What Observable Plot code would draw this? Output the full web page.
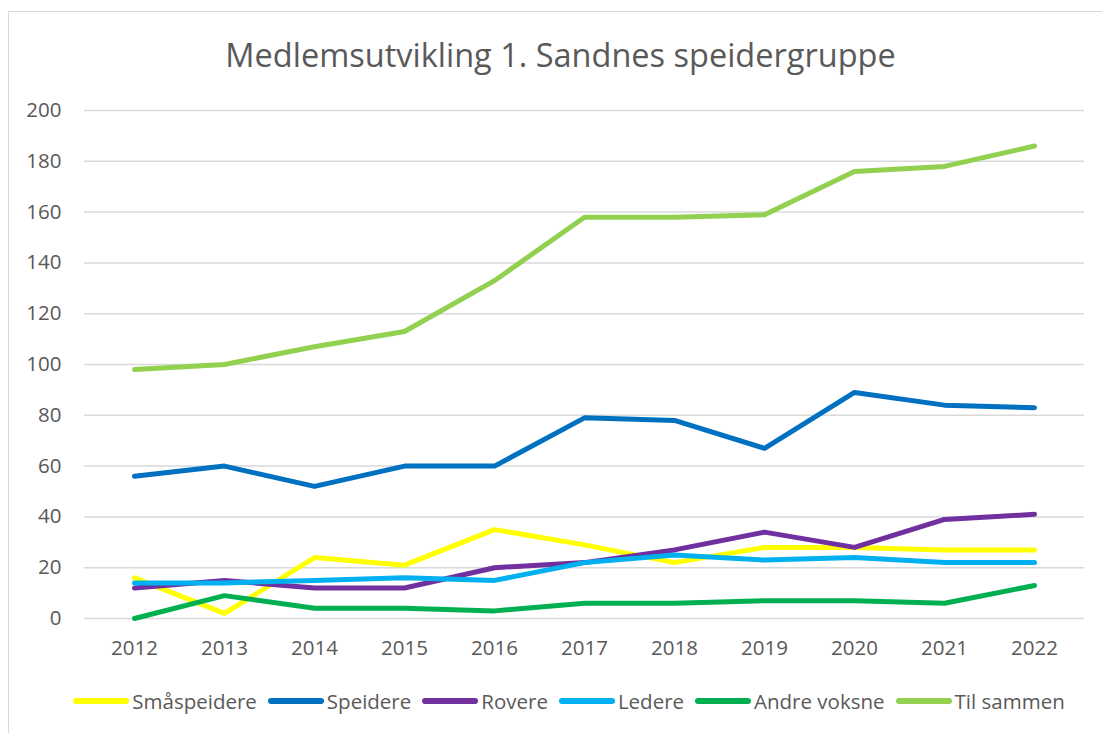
<!DOCTYPE html>
<html>
<head>
<meta charset="utf-8">
<script src="https://cdn.jsdelivr.net/npm/d3@7"></script>
<script src="https://cdn.jsdelivr.net/npm/@observablehq/plot@0.6"></script>
<style>
  body { margin: 0; background: #fff; font-family: "Open Sans", sans-serif; color: #595959; }
  #wrap { position: relative; width: 1102px; height: 733px; overflow: hidden; }
  #frame { position: absolute; left: 8px; top: 11px; width: 1110px; height: 740px; border: 1px solid #d9d9d9; box-sizing: border-box; }
  #title { position: absolute; left: 0; width: 1121px; top: 32px; text-align: center; font-size: 32.5px; font-weight: 400; color: #595959; white-space: nowrap; }
  #chart { position: absolute; left: 0; top: 0; }
  #legend { position: absolute; left: 0; width: 1138px; top: 687px; display: flex; justify-content: center; align-items: center; font-size: 20.5px; color: #595959; white-space: nowrap; }
  .item { display: flex; align-items: center; margin-right: 11px; }
  .item:last-child { margin-right: 0; }
  .sw { width: 56px; height: 6px; border-radius: 3px; margin-right: 3px; }
</style>
</head>
<body>
<div id="wrap">
  <div id="frame"></div>
  <div id="chart"></div>
  <div id="title">Medlemsutvikling 1. Sandnes speidergruppe</div>
  <div id="legend"></div>
</div>
<script>
const years = [2012, 2013, 2014, 2015, 2016, 2017, 2018, 2019, 2020, 2021, 2022];
const seriesNames = ["Småspeidere", "Speidere", "Rovere", "Ledere", "Andre voksne", "Til sammen"];
const smaspeidere = [16, 2, 24, 21, 35, 29, 22, 28, 28, 27, 27];
const speidere = [56, 60, 52, 60, 60, 79, 78, 67, 89, 84, 83];
const rovere = [12, 15, 12, 12, 20, 22, 27, 34, 28, 39, 41];
const ledere = [14, 14, 15, 16, 15, 22, 25, 23, 24, 22, 22];
const andreVoksne = [0, 9, 4, 4, 3, 6, 6, 7, 7, 6, 13];
const tilSammen = [98, 100, 107, 113, 133, 158, 158, 159, 176, 178, 186];
const colors = ["#FFFF00", "#0070C0", "#7030A0", "#00B0F0", "#00B050", "#92D050"];
const yTicks = [0, 20, 40, 60, 80, 100, 120, 140, 160, 180, 200];

const seriesValues = [smaspeidere, speidere, rovere, ledere, andreVoksne, tilSammen];
const data = [];
seriesNames.forEach((name, i) => {
  years.forEach((yr, j) => data.push({series: name, year: String(yr), value: seriesValues[i][j]}));
});

const chart = Plot.plot({
  width: 1102,
  height: 733,
  marginTop: 110,
  marginBottom: 115,
  marginLeft: 84,
  marginRight: 18,
  style: { fontFamily: "Open Sans, sans-serif", fontSize: "20.5px", color: "#595959", background: "transparent" },
  x: { type: "point", domain: years.map(String), padding: 0.5, label: null },
  y: { domain: [0, 200], label: null },
  color: { domain: seriesNames, range: colors },
  marks: [
    Plot.ruleY(yTicks, { stroke: "#d9d9d9", strokeWidth: 1.5 }),
    Plot.axisX({ tickSize: 0, tickPadding: 22, label: null, fill: "#595959" }),
    Plot.axisY(yTicks, { tickSize: 0, tickPadding: 23, label: null, fill: "#595959" }),
    Plot.line(data, {
      x: "year", y: "value", z: "series", stroke: "series",
      strokeWidth: 5, strokeLinecap: "round", strokeLinejoin: "round"
    })
  ]
});
document.getElementById("chart").appendChild(chart);

const legend = document.getElementById("legend");
seriesNames.forEach((name, i) => {
  const item = document.createElement("div");
  item.className = "item";
  const sw = document.createElement("div");
  sw.className = "sw";
  sw.style.background = colors[i];
  const t = document.createElement("span");
  t.textContent = name;
  item.appendChild(sw);
  item.appendChild(t);
  legend.appendChild(item);
});
</script>
</body>
</html>
